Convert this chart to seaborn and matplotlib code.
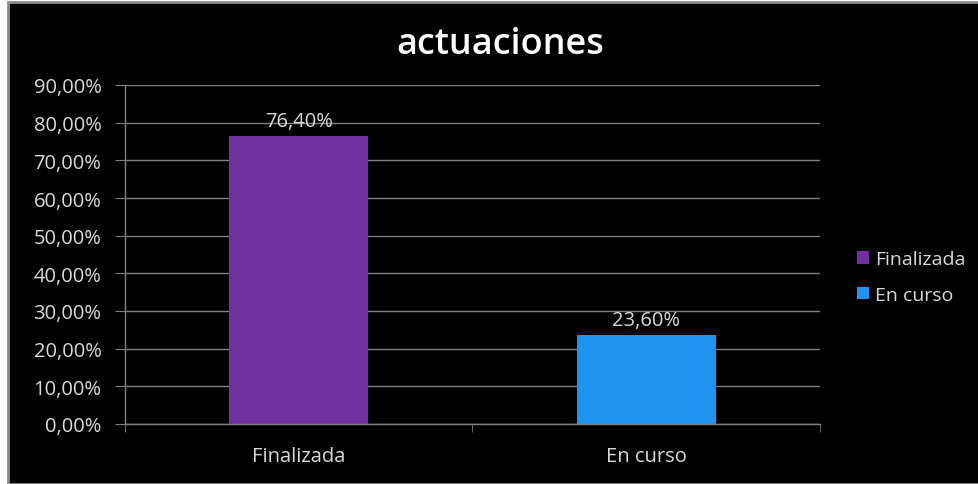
import matplotlib
matplotlib.use("Agg")
import matplotlib.pyplot as plt
import seaborn as sns
import pandas as pd
from matplotlib.ticker import FuncFormatter, MultipleLocator
from matplotlib.patches import Rectangle

# data
categories = ['Finalizada', 'En curso']
values = [76.40, 23.60]
colors = ['#7030a0', '#1f93f0']

df = pd.DataFrame({'estado': categories, 'pct': values})

sns.set_style('dark')
plt.rcParams['font.family'] = ['Open Sans', 'DejaVu Sans']
txt = '#d9d9d9'
grid = '#808080'
fs = 14.5

fig = plt.figure(figsize=(9.79, 4.85), dpi=100, facecolor='white')
# black chart area with grey frame (screenshot border)
fig.patches.append(Rectangle((8 / 979, 0), 1, 1 - 3 / 485, transform=fig.transFigure,
                             facecolor='black', edgecolor='#8c8c8c', linewidth=2, zorder=-5))

ax = fig.add_axes([125 / 979, 1 - 425 / 485, 695 / 979, 339 / 485])
ax.set_facecolor('black')

sns.barplot(data=df, x='estado', y='pct', hue='estado', palette=colors,
            width=0.4, dodge=False, legend=False, ax=ax, saturation=1,
            edgecolor='none', linewidth=0)

for c in ax.containers:
    ax.bar_label(c, labels=[f'{v:.2f}%'.replace('.', ',') for v in c.datavalues],
                 color=txt, fontsize=fs, padding=4)

ax.set_ylim(0, 90)
ax.set_xlim(-0.5, 1.5)
ax.yaxis.set_major_locator(MultipleLocator(10))
ax.yaxis.set_major_formatter(FuncFormatter(lambda v, p: f'{v:.2f}%'.replace('.', ',')))
ax.set_axisbelow(True)
ax.grid(axis='y', color=grid, linewidth=1)
ax.grid(axis='x', visible=False)
ax.set_xlabel('')
ax.set_ylabel('')

for s in ['top', 'right']:
    ax.spines[s].set_visible(False)
for s in ['left', 'bottom']:
    ax.spines[s].set_visible(True)
    ax.spines[s].set_color(grid)
    ax.spines[s].set_linewidth(1)

ax.tick_params(axis='y', colors=grid, labelcolor=txt, labelsize=fs, length=7, direction='out', left=True, pad=10)
ax.tick_params(axis='x', labelcolor=txt, labelsize=fs, bottom=False, pad=12)
ax.set_xticks([-0.5, 0.5, 1.5], minor=True)
ax.tick_params(axis='x', which='minor', bottom=True, length=6, color=grid)

fig.text(500 / 979, 1 - 45 / 485, 'actuaciones', color='white', fontsize=26,
         fontweight='semibold', ha='center', va='center')

handles = [Rectangle((0, 0), 1, 1, facecolor=col, edgecolor='none') for col in colors]
leg = fig.legend(handles, categories, loc='center left', bbox_to_anchor=(840 / 979, 1 - 278 / 485),
                 frameon=False, fontsize=14, handlelength=0.6, handleheight=0.6,
                 handletextpad=0.3, labelspacing=0.9)
for t in leg.get_texts():
    t.set_color(txt)

fig.savefig('out.png', dpi=100, facecolor=fig.get_facecolor())
